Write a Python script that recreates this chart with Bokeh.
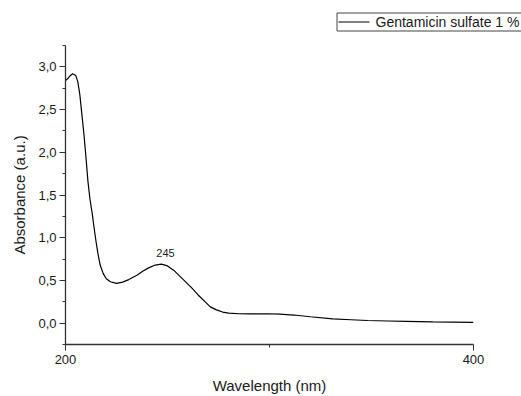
from bokeh.plotting import figure
from bokeh.layouts import column
from bokeh.models import FixedTicker, Label, Range1d
from bokeh.embed import file_html
from bokeh.resources import INLINE

wavelength = [200, 201, 202, 203.5, 205, 206, 207, 208, 209, 210, 211, 212, 213, 214, 215, 216, 217,
              218.5, 220, 222, 225, 228, 231, 235, 238, 241, 244, 247, 250, 253, 256, 259, 262, 265,
              268, 271, 274, 277, 280, 285, 290, 299, 305, 312, 320, 331, 340, 348, 358, 367, 380, 390, 400]
absorbance = [2.84, 2.86, 2.89, 2.92, 2.90, 2.83, 2.68, 2.45, 2.22, 1.95, 1.66, 1.45, 1.30, 1.12, 0.95, 0.80, 0.68,
              0.58, 0.52, 0.485, 0.465, 0.48, 0.51, 0.56, 0.61, 0.65, 0.68, 0.69, 0.67, 0.62, 0.55, 0.48, 0.41, 0.33,
              0.26, 0.19, 0.155, 0.13, 0.118, 0.11, 0.108, 0.11, 0.105, 0.095, 0.075, 0.05, 0.04, 0.031, 0.025, 0.02, 0.014, 0.011, 0.008]
series_name = "Gentamicin sulfate 1 %"
peak_label = "245"
peak_x = 249
peak_y = 0.77

y_ticks = [0.0, 0.5, 1.0, 1.5, 2.0, 2.5, 3.0]
y_minor = [-0.25, 0.25, 0.75, 1.25, 1.75, 2.25, 2.75, 3.25]
x_ticks = [200, 400]
x_minor = [300]

FONT = "Liberation Sans"
AXIS_COLOR = "#333333"
TEXT_COLOR = "#1a1a1a"

# ---- legend strip (outside the plot frame, top right) ----
leg = figure(width=521, height=40, output_backend="svg", toolbar_location=None,
             x_range=Range1d(0, 521), y_range=Range1d(40, 0),
             min_border=0, min_border_left=0, min_border_right=0, min_border_top=0, min_border_bottom=0)
leg.frame_align = False
leg.axis.visible = False
leg.grid.visible = False
leg.outline_line_color = None
leg.background_fill_color = "white"
leg.border_fill_color = "white"
leg.quad(left=[336.5], right=[540], top=[12.5], bottom=[30.5],
         fill_color="white", line_color="#444444", line_width=1)
leg.line([338, 369], [21.5, 21.5], line_color="black", line_width=1.2)
leg.text(x=[375], y=[21.5], text=[series_name], text_font_size="14px",
         text_baseline="middle", text_align="left", text_color=TEXT_COLOR,
         text_font={"value": FONT})

# ---- main plot ----
p = figure(width=521, height=356, output_backend="svg", toolbar_location=None,
           x_range=Range1d(200, 400), y_range=Range1d(-0.25, 3.25),
           min_border_left=65, min_border_right=48, min_border_top=5, min_border_bottom=49)
p.frame_align = False
p.outline_line_color = None
p.xgrid.visible = False
p.ygrid.visible = False
p.background_fill_color = "white"
p.border_fill_color = "white"

r = p.line(wavelength, absorbance, line_color="black", line_width=1.2)

for ax in (p.xaxis[0], p.yaxis[0]):
    ax.axis_line_color = AXIS_COLOR
    ax.axis_line_width = 1.3
    ax.major_tick_line_color = AXIS_COLOR
    ax.minor_tick_line_color = AXIS_COLOR
    ax.major_tick_out = 6
    ax.major_tick_in = 0
    ax.minor_tick_out = 3
    ax.minor_tick_in = 0
    ax.major_label_text_font = FONT
    ax.major_label_text_font_size = "13px"
    ax.major_label_text_color = TEXT_COLOR
    ax.axis_label_text_font = FONT
    ax.axis_label_text_font_size = "15px"
    ax.axis_label_text_font_style = "normal"
    ax.axis_label_text_color = TEXT_COLOR

p.yaxis.ticker = FixedTicker(ticks=y_ticks, minor_ticks=y_minor)
p.yaxis.major_label_overrides = {t: f"{t:.1f}".replace(".", ",") for t in y_ticks}
p.xaxis.ticker = FixedTicker(ticks=x_ticks, minor_ticks=x_minor)
p.yaxis.axis_label = "Absorbance (a.u.)"
p.xaxis.axis_label = "Wavelength (nm)"
p.yaxis.major_label_standoff = 3
p.xaxis.major_label_standoff = 4
p.yaxis.axis_label_standoff = 7
p.xaxis.axis_label_standoff = 10

p.add_layout(Label(x=peak_x, y=peak_y, text=peak_label, text_align="center",
                   text_font=FONT, text_font_size="11px", text_color=TEXT_COLOR))

layout = column(leg, p, spacing=0)
open("out.html", "w").write(file_html(layout, INLINE))
